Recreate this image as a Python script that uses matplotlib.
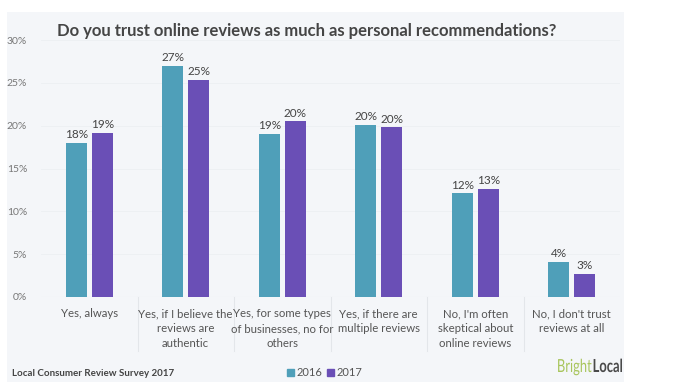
import numpy as np
import matplotlib
matplotlib.use("Agg")
import matplotlib.pyplot as plt
from matplotlib.patches import Rectangle, PathPatch
from matplotlib.textpath import TextPath
from matplotlib.font_manager import FontProperties
from matplotlib.transforms import Affine2D

categories = [
    "Yes, always",
    "Yes, if I believe the\nreviews are\nauthentic",
    "Yes, for some types\nof businesses, no for\nothers",
    "Yes, if there are\nmultiple reviews",
    "No, I'm often\nskeptical about\nonline reviews",
    "No, I don't trust\nreviews at all",
]
vals_2016 = [18.0, 27.0, 19.0, 20.1, 12.1, 4.1]
vals_2017 = [19.2, 25.3, 20.5, 19.8, 12.6, 2.7]
labels_2016 = ["18%", "27%", "19%", "20%", "12%", "4%"]
labels_2017 = ["19%", "25%", "20%", "20%", "13%", "3%"]
yticks = [0, 5, 10, 15, 20, 25, 30]

TEAL = "#4f9fb9"
PURPLE = "#6a4fb6"
PANEL = "#f4f6f9"
TXT = "#555555"

plt.rcParams["font.family"] = ["Lato", "DejaVu Sans"]

W, H = 675, 385
fig = plt.figure(figsize=(W / 100, H / 100), dpi=100)
fig.patch.set_facecolor("white")

# light panel behind the chart
fig.patches.append(Rectangle((7 / W, 1 - 382 / H), (624 - 7) / W, (382 - 12) / H,
                             transform=fig.transFigure, facecolor=PANEL,
                             edgecolor="none", zorder=-10))

ax = fig.add_axes([41 / W, 1 - 297 / H, (620 - 41) / W, (297 - 40) / H])
ax.set_facecolor("none")

x = np.arange(len(categories))
bw = 0.218
off = 0.135
b1 = ax.bar(x - off, vals_2016, bw, color=TEAL, zorder=3)
b2 = ax.bar(x + off, vals_2017, bw, color=PURPLE, zorder=3)

for bars, labs in ((b1, labels_2016), (b2, labels_2017)):
    for r, lab in zip(bars, labs):
        ax.annotate(lab, (r.get_x() + r.get_width() / 2, r.get_height()),
                    xytext=(0, 2), textcoords="offset points",
                    ha="center", va="bottom", fontsize=8.5, color="#444444")

ax.set_xlim(-0.5, len(categories) - 0.5)
ax.set_ylim(0, 30)
ax.set_yticks(yticks)
ax.set_yticklabels([f"{t}%" for t in yticks], fontsize=7.5, color="#777777")
ax.tick_params(axis="y", length=0, pad=10)
ax.set_xticks([])
for t in yticks[1:]:
    ax.axhline(t, color="#eceff3", lw=0.6, zorder=1)
for s in ax.spines.values():
    s.set_visible(False)
ax.axhline(0, color="#e6e9ee", lw=0.8, zorder=2)

# category labels and separators
for i, c in enumerate(categories):
    ax.text(i, -1.3, c, ha="center", va="top", fontsize=8.2, color=TXT,
            linespacing=1.45, transform=ax.transData)
for i in range(len(categories) - 1):
    ax.plot([i + 0.5, i + 0.5], [0, -6.3], color="#e3e6ea", lw=0.8,
            clip_on=False, zorder=1)

fig.text(307 / W, 1 - 31 / H,
         "Do you trust online reviews as much as personal recommendations?",
         ha="center", va="center", fontsize=12, fontweight="bold", color="#454545")

fig.text(12 / W, 1 - 373 / H, "Local Consumer Review Survey 2017",
         ha="left", va="center", fontsize=7, fontweight="bold", color="#444444")

# legend
lx = 287
fig.patches.append(Rectangle((lx / W, 1 - 376 / H), 7 / W, 7 / H,
                             transform=fig.transFigure, color=TEAL))
fig.text((lx + 10) / W, 1 - 372.5 / H, "2016", ha="left", va="center",
         fontsize=8, color=TXT)
fig.patches.append(Rectangle(((lx + 40) / W, 1 - 376 / H), 7 / W, 7 / H,
                             transform=fig.transFigure, color=PURPLE))
fig.text((lx + 50) / W, 1 - 372.5 / H, "2017", ha="left", va="center",
         fontsize=8, color=TXT)

# brand logo, squeezed horizontally to look condensed
fp = FontProperties(family="Lato")
fp_b = FontProperties(family="Lato", weight="bold")
p1 = TextPath((0, 0), "Bright", size=18, prop=fp)
p2 = TextPath((0, 0), "Local", size=18, prop=fp_b)
sx = 0.72
w1 = p1.get_extents().x1
w2 = p2.get_extents().x1
total = (w1 + w2) * sx + 1
x0 = 622 - total
y0 = H - 372
fig.patches.append(PathPatch(p1, transform=Affine2D().scale(sx, 1).translate(x0, y0),
                             facecolor="#a8c55c", edgecolor="none"))
fig.patches.append(PathPatch(p2, transform=Affine2D().scale(sx, 1).translate(x0 + w1 * sx + 1, y0),
                             facecolor="#4a4a4a", edgecolor="none"))

fig.savefig("out.png", dpi=100)
